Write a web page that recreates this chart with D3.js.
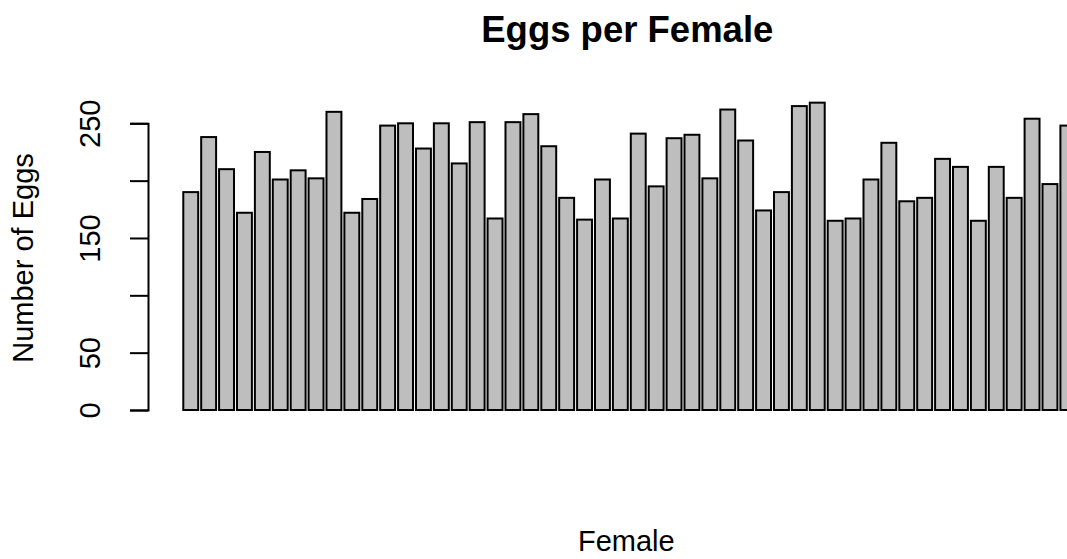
<!DOCTYPE html>
<html>
<head>
<meta charset="utf-8">
<script src="https://cdn.jsdelivr.net/npm/d3@7"></script>
<style>
  body { margin: 0; background: #fff; }
  svg { display: block; font-family: "Liberation Sans", Arial, sans-serif; }
</style>
</head>
<body>
<svg id="chart" width="1067" height="559"></svg>
<script>
// Chart data
const females = d3.range(1, 51).map(String);
const eggs = [
  190, 238, 210, 172, 225, 201, 209, 202, 260, 172,
  184, 248, 250, 228, 250, 215, 251, 167, 251, 258,
  230, 185, 166, 201, 167, 241, 195, 237, 240, 202,
  262, 235, 174, 190, 265, 268, 165, 167, 201, 233,
  182, 185, 219, 212, 165, 212, 185, 254, 197, 248
];
const yTicks = [0, 50, 100, 150, 200, 250];
const yTickLabels = ["0", "50", "", "150", "", "250"];

const svg = d3.select("#chart");

// R barplot user coordinates: bars of width 1, space 0.2, xlim padded by 4%
const xUser = d3.scaleLinear().domain([-2.192, 62.392]).range([147.6, 1111]);
const x = d3.scaleBand()
  .domain(females)
  .range([xUser(0), xUser(60.2)])
  .paddingInner(1 / 6)
  .paddingOuter(1 / 6);

const y = d3.scaleLinear().domain([0, 250]).range([410, 123.3]);
const plotCenterX = (xUser.range()[0] + xUser.range()[1]) / 2;

// Bars
svg.append("g")
  .selectAll("rect")
  .data(eggs)
  .join("rect")
  .attr("x", (d, i) => x(females[i]))
  .attr("y", d => y(d))
  .attr("width", x.bandwidth())
  .attr("height", d => y(0) - y(d))
  .attr("fill", "#bebebe")
  .attr("stroke", "#000")
  .attr("stroke-width", 2);

// Y axis
const yAxis = d3.axisLeft(y)
  .tickValues(yTicks)
  .tickFormat((d, i) => yTickLabels[i])
  .tickSizeOuter(0)
  .tickSize(18)
  .tickPadding(0);

const gy = svg.append("g")
  .attr("transform", "translate(148,0)")
  .call(yAxis);

gy.select(".domain").attr("stroke", "#000").attr("stroke-width", 2);
gy.selectAll(".tick line").attr("stroke", "#000").attr("stroke-width", 2);
gy.selectAll(".tick text")
  .attr("font-size", 29)
  .attr("font-family", "Liberation Sans, Arial, sans-serif")
  .attr("fill", "#000")
  .attr("x", null)
  .attr("dy", null)
  .attr("text-anchor", "middle")
  .attr("transform", "translate(-48,0) rotate(-90)");

// Title and axis labels
svg.append("text")
  .attr("x", plotCenterX - 2)
  .attr("y", 42)
  .attr("text-anchor", "middle")
  .attr("font-size", 36.5)
  .attr("font-weight", "bold")
  .text("Eggs per Female");

svg.append("text")
  .attr("x", plotCenterX - 3)
  .attr("y", 551)
  .attr("text-anchor", "middle")
  .attr("font-size", 29)
  .text("Female");

svg.append("text")
  .attr("transform", "translate(33,258) rotate(-90)")
  .attr("text-anchor", "middle")
  .attr("font-size", 29)
  .text("Number of Eggs");
</script>
</body>
</html>
